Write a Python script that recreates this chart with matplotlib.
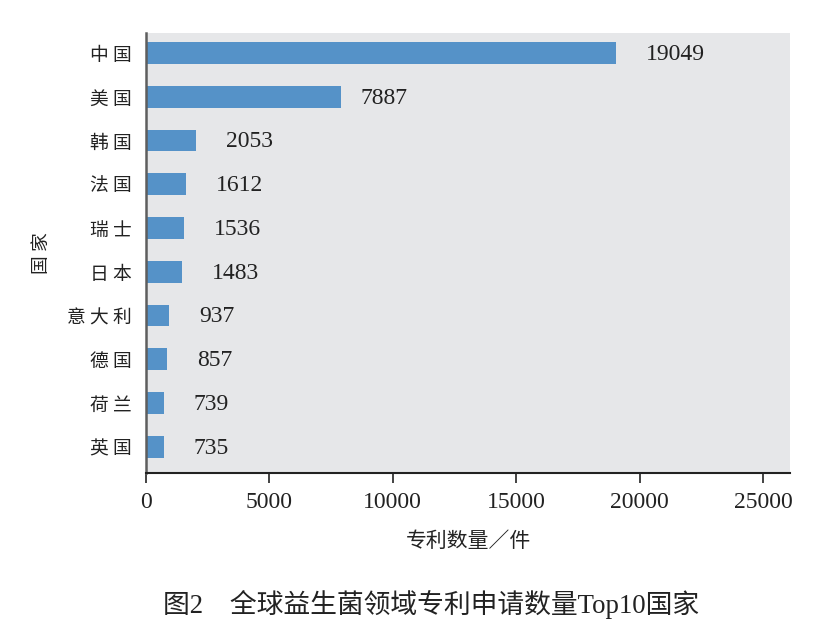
import matplotlib
matplotlib.use("Agg")
import matplotlib.pyplot as plt

countries = ["中国", "美国", "韩国", "法国", "瑞士", "日本", "意大利", "德国", "荷兰", "英国"]
patents = [19049, 7887, 2053, 1612, 1536, 1483, 937, 857, 739, 735]
x_ticks = [0, 5000, 10000, 15000, 20000, 25000]

cjk = ["Noto Sans CJK SC", "DejaVu Sans"]
serif = ["Liberation Serif", "DejaVu Serif"]
mixed = ["Liberation Serif", "Noto Sans CJK SC", "DejaVu Sans"]

fig = plt.figure(figsize=(8.14, 6.34), dpi=100, facecolor="white")
ax = fig.add_axes([0.179, 0.254, 0.792, 0.694])
ax.set_facecolor("#e6e7e9")

positions = list(range(len(countries)))
ax.barh(positions, patents, height=0.5, color="#5592c8", zorder=2)

# label gap in pixels; the 7887 label sits closer to its bar in the original
for pos, value in zip(positions, patents):
    gap = 20 if value == 7887 else 30
    ax.annotate(str(value), (value, pos), xytext=(gap * 0.72, -1),
                textcoords="offset points", va="center", ha="left",
                fontsize=17, family=serif, color="#222222")

ax.set_xlim(0, 26100)
ax.set_ylim(9.6, -0.46)
ax.set_xticks(x_ticks, [str(t) for t in x_ticks])
# spaced out the way the original sets its CJK labels
ax.set_yticks(positions, [" ".join(c) for c in countries])
for label in ax.get_xticklabels():
    label.set_fontfamily(serif)
    label.set_fontsize(17)
for label in ax.get_yticklabels():
    label.set_fontfamily(cjk)
    label.set_fontsize(13.5)
ax.tick_params(axis="x", direction="out", length=7, width=1.2, pad=7,
               colors="#222222")
ax.tick_params(axis="y", length=0, pad=10, colors="#222222")

for side in ("top", "right"):
    ax.spines[side].set_visible(False)
ax.spines["left"].set_color("#5e5e5e")
ax.spines["left"].set_linewidth(1.8)
ax.spines["bottom"].set_color("#222222")
ax.spines["bottom"].set_linewidth(1.5)

ax.set_xlabel("专利数量／件", family=cjk, fontsize=15, labelpad=12,
              color="#222222")
ax.set_ylabel("国 家", family=cjk, fontsize=13.5, labelpad=11,
              color="#222222")

fig.text(0.53, 0.046, "图2　全球益生菌领域专利申请数量Top10国家",
         family=mixed, fontsize=19.3, ha="center", va="center",
         color="#222222")

fig.savefig("out.png", dpi=100)
